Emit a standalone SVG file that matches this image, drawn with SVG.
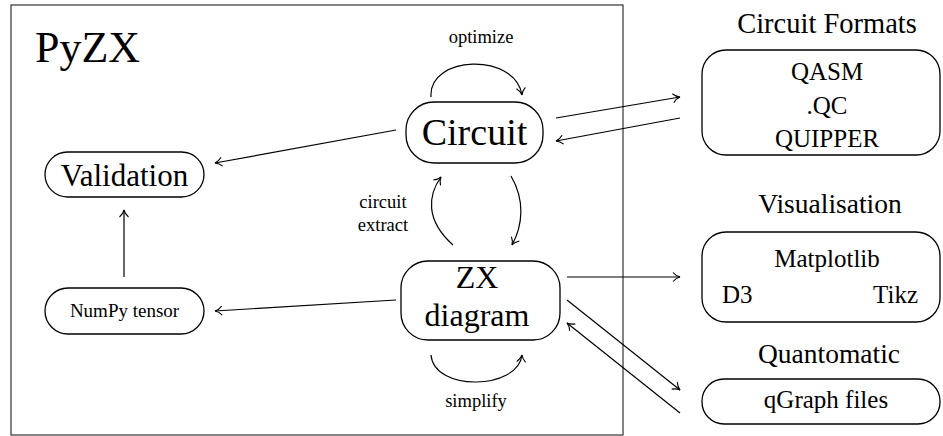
<svg xmlns="http://www.w3.org/2000/svg" width="943" height="436" viewBox="0 0 943 436" font-family="'Liberation Serif', 'Times New Roman', serif">
<style>
text{font-family:"Liberation Serif","Times New Roman",serif;fill:#000;text-anchor:middle}
.n{fill:#fff;stroke:#000;stroke-width:1.3}
.c{fill:none;stroke:#000;stroke-width:1.2}
.a{marker-end:url(#ah)}
</style>
<defs>
<marker id="ah" markerUnits="userSpaceOnUse" markerWidth="14" markerHeight="14" refX="10" refY="7" orient="auto">
<path d="M3,2.5 Q6,6 10,7 Q6,8 3,11.5" fill="none" stroke="#000" stroke-width="1.1"/>
</marker>
</defs>
<rect x="11" y="5" width="612" height="430" fill="none" stroke="#333" stroke-width="1.2"/>
<text x="35" y="62" font-size="44" style="text-anchor:start">PyZX</text>
<g id="validation"><rect class="n" x="45" y="152" width="159" height="45" rx="22.5"/><text x="124.5" y="186" font-size="31">Validation</text></g>
<g id="numpy"><rect class="n" x="45" y="288" width="159" height="46" rx="23"/><text x="124.5" y="317" font-size="19">NumPy tensor</text></g>
<g id="circuit"><rect class="n" x="406" y="102" width="137" height="61" rx="28"/><text x="474.5" y="145" font-size="38">Circuit</text></g>
<g id="zx"><rect class="n" x="401" y="261" width="159" height="79" rx="27"/><text x="477" y="288" font-size="32">ZX</text><text x="477" y="326" font-size="32">diagram</text></g>
<g id="formats"><text x="827" y="33" font-size="28.5">Circuit Formats</text><rect class="n" x="702" y="50" width="238" height="105" rx="24"/><text x="827" y="80" font-size="25">QASM</text><text x="827" y="114" font-size="25">.QC</text><text x="827" y="147" font-size="25">QUIPPER</text></g>
<g id="visualisation"><text x="830" y="213" font-size="27.5">Visualisation</text><rect class="n" x="702" y="232" width="238" height="90" rx="24"/><text x="827" y="267" font-size="25">Matplotlib</text><text x="722" y="303" font-size="25" style="text-anchor:start">D3</text><text x="918" y="303" font-size="25" style="text-anchor:end">Tikz</text></g>
<g id="quantomatic"><text x="829" y="363" font-size="27.5">Quantomatic</text><rect class="n" x="702" y="379" width="238" height="45" rx="22"/><text x="826" y="408" font-size="25">qGraph files</text></g>
<g id="connectors">
<line class="c a" x1="396" y1="130" x2="215" y2="163"/>
<line class="c a" x1="124" y1="277" x2="124" y2="210"/>
<line class="c a" x1="396" y1="300" x2="215" y2="311"/>
<line class="c a" x1="556" y1="118" x2="680" y2="97"/>
<line class="c a" x1="680" y1="118" x2="556" y2="141"/>
<line class="c a" x1="567" y1="277" x2="680" y2="277"/>
<line class="c a" x1="567" y1="300" x2="680" y2="390"/>
<line class="c a" x1="680" y1="413" x2="567" y2="323"/>
<path class="c a" d="M431,97 C428,55 515,52 522,95"/>
<path class="c a" d="M431,355 C434,392 518,390 522,355"/>
<path class="c a" d="M453,245 C425,220 428,195 441,177"/>
<path class="c a" d="M511,176 C525,200 523,225 512,245"/>
<text x="481" y="43" font-size="18.5">optimize</text>
<text x="383" y="208" font-size="18.5">circuit</text>
<text x="383" y="231" font-size="18.5">extract</text>
<text x="476" y="407" font-size="18.5">simplify</text>
</g>
</svg>
